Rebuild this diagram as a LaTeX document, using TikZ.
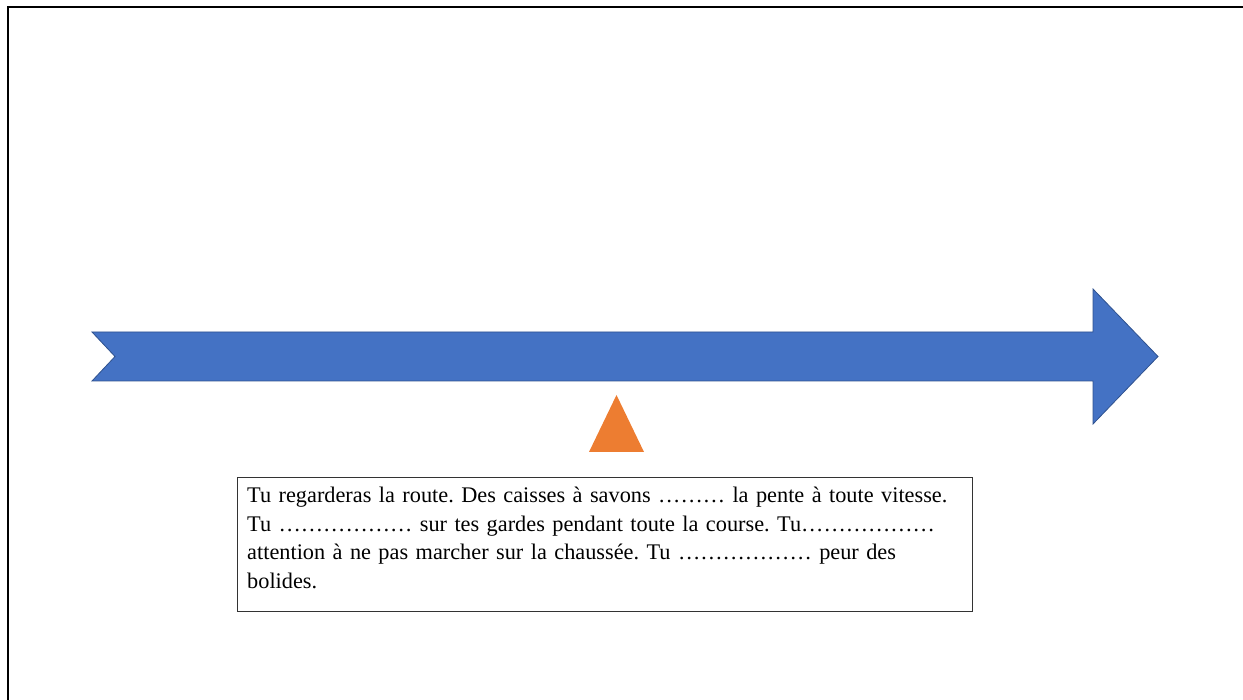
\documentclass[tikz,border=0pt]{standalone}
\usepackage{fontspec}
\setmainfont{Liberation Serif}
\usepackage{xcolor}
\usetikzlibrary{positioning}

\definecolor{arrowblue}{HTML}{4472C4}
\definecolor{arrowline}{HTML}{2F528F}
\definecolor{markorange}{HTML}{ED7D31}

\begin{document}
\frenchspacing
\begin{tikzpicture}[
    x=1pt, y=-1pt,
    frame/.style={draw=black,line width=2pt},
    timeline/.style={fill=arrowblue,draw=arrowline,line width=0.8pt,line join=miter},
    marker/.style={fill=markorange,draw=none},
    textbox/.style={draw=black!80,line width=0.8pt,minimum width=735pt,minimum height=134pt,
                    inner sep=0pt,anchor=north west},
    boxtext/.style={anchor=north west,align=left,text width=725pt,inner sep=0pt,
                    font=\fontsize{22.3}{28.6}\selectfont},
  ]
  \useasboundingbox (0,0) rectangle (1243,700);

  % slide frame (only its top and left edges show)
  \draw[frame] (7.5,710) -- (7.5,7.5) -- (1250,7.5);

  % the time line: notched tail on the left, head on the right
  \draw[timeline] (92,332) -- (1093,332) -- (1093,289) -- (1158,356.5)
    -- (1093,424) -- (1093,381) -- (92,381) -- (115,356.5) -- cycle;

  % marker under the line
  \fill[marker] (616.5,395) -- (644,452) -- (589,452) -- cycle;

  % exercise text
  \node[textbox] (box) at (237,477) {};
  \node[boxtext] (txt) at ([shift={(10pt,-10pt)}]box.north west) {%
    Tu regarderas la route. Des caisses à savons ……… la pente à toute vitesse.\\
    Tu ……………… sur tes gardes pendant toute la course. Tu………………\\
    attention à ne pas marcher sur la chaussée. Tu ……………… peur des\\
    bolides.};

\end{tikzpicture}
\end{document}
